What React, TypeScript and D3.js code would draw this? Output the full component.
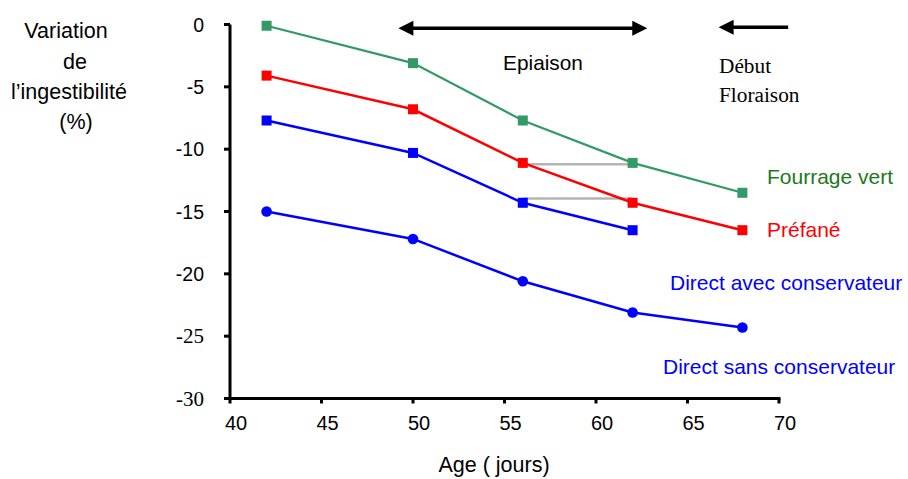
import React from "react";
import * as d3 from "d3";

const ages = [42, 50, 56, 62, 68];
const fourrageVert = [-0.1, -3.1, -7.7, -11.1, -13.5];
const prefane = [-4.1, -6.8, -11.1, -14.3, -16.5];
const directAvec = [-7.7, -10.3, -14.3, -16.5];
const directSans = [-15.0, -17.2, -20.6, -23.1, -24.3];

const xTicks = [40, 45, 50, 55, 60, 65, 70];
const yTicks = [0, -5, -10, -15, -20, -25, -30];
const serifYTicks = [-25, -30];

// gray comparison segments: [x1, x2, y]
const graySegments = [
  [56, 62, -11.2],
  [56, 62, -13.95],
];

const epiaisonRange = [49.2, 62.8];
const floraisonRange = [66.7, 70.5];
const arrowLevel = -0.3;

const W = 908;
const H = 479;
const SANS = "Arial, 'Liberation Sans', Helvetica, sans-serif";
const SERIF = "'Times New Roman', 'Liberation Serif', serif";

export default function App() {
  const x = d3.scaleLinear().domain([40, 70]).range([230, 779]);
  const y = d3.scaleLinear().domain([0, -30]).range([24.5, 398.5]);
  const line = d3
    .line<[number, number]>()
    .x((d) => x(d[0]))
    .y((d) => y(d[1]));

  const pts = (vals: number[]) => vals.map((v, i) => [ages[i], v] as [number, number]);

  const series = [
    { vals: fourrageVert, color: "#339966", marker: "square", w: 2.2 },
    { vals: prefane, color: "#ff0000", marker: "square", w: 2.5 },
    { vals: directAvec, color: "#0000ff", marker: "square", w: 2.5 },
    { vals: directSans, color: "#0000ff", marker: "circle", w: 2.5 },
  ];

  const ay = y(arrowLevel);
  const headL = 15;
  const headH = 7.5;

  return (
    <svg
      width={W}
      height={H}
      style={{ position: "absolute", left: 0, top: 0, background: "#fff" }}
    >
      <rect x={0} y={0} width={W} height={H} fill="#fff" />

      {/* Y axis title */}
      <g fontFamily={SANS} fontSize={21.5} fill="#000" textAnchor="middle">
        <text x={66} y={38}>Variation</text>
        <text x={75} y={69}>de</text>
        <text x={69} y={99}>l’ingestibilité</text>
        <text x={76} y={129}>(%)</text>
      </g>

      {/* gray segments */}
      {graySegments.map((s, i) => (
        <line
          key={i}
          x1={x(s[0])}
          x2={x(s[1])}
          y1={y(s[2])}
          y2={y(s[2])}
          stroke="#b4b4b4"
          strokeWidth={2.5}
        />
      ))}

      {/* series */}
      {series.map((s, i) => {
        const p = pts(s.vals);
        return (
          <g key={i}>
            <path d={line(p) || ""} fill="none" stroke={s.color} strokeWidth={s.w} />
            {p.map((d, j) =>
              s.marker === "square" ? (
                <rect
                  key={j}
                  x={x(d[0]) - 5}
                  y={y(d[1]) - 5}
                  width={10}
                  height={10}
                  fill={s.color}
                />
              ) : (
                <circle key={j} cx={x(d[0])} cy={y(d[1])} r={5.3} fill={s.color} />
              )
            )}
          </g>
        );
      })}

      {/* axes */}
      <line x1={230} x2={230} y1={y(0)} y2={y(-30) + 1.5} stroke="#000" strokeWidth={3} />
      <line x1={228.5} x2={x(70) + 1.5} y1={y(-30)} y2={y(-30)} stroke="#000" strokeWidth={3} />
      {yTicks.map((t) => (
        <g key={t}>
          <line x1={224} x2={230} y1={y(t)} y2={y(t)} stroke="#000" strokeWidth={3} />
          <text
            x={204}
            y={y(t) + 7}
            textAnchor="end"
            fontFamily={serifYTicks.includes(t) ? SERIF : SANS}
            fontSize={serifYTicks.includes(t) ? 21 : 19.5}
          >
            {t}
          </text>
        </g>
      ))}
      {xTicks.map((t) => (
        <g key={t}>
          <line x1={x(t)} x2={x(t)} y1={y(-30)} y2={y(-30) + 5} stroke="#000" strokeWidth={3} />
          <text x={x(t) + 6} y={430} textAnchor="middle" fontFamily={SANS} fontSize={20}>
            {t}
          </text>
        </g>
      ))}
      <text x={494} y={472} textAnchor="middle" fontFamily={SANS} fontSize={21.5}>
        Age ( jours)
      </text>

      {/* Epiaison arrow */}
      <line
        x1={x(epiaisonRange[0]) + headL - 1}
        x2={x(epiaisonRange[1]) - headL + 1}
        y1={ay}
        y2={ay}
        stroke="#000"
        strokeWidth={3.5}
      />
      <polygon
        points={`${x(epiaisonRange[0])},${ay} ${x(epiaisonRange[0]) + headL},${ay - headH} ${x(epiaisonRange[0]) + headL},${ay + headH}`}
        fill="#000"
      />
      <polygon
        points={`${x(epiaisonRange[1])},${ay} ${x(epiaisonRange[1]) - headL},${ay - headH} ${x(epiaisonRange[1]) - headL},${ay + headH}`}
        fill="#000"
      />
      <text x={543} y={70} textAnchor="middle" fontFamily={SANS} fontSize={20.8}>
        Epiaison
      </text>

      {/* Floraison arrow */}
      <line
        x1={x(floraisonRange[0]) + headL - 1}
        x2={x(floraisonRange[1])}
        y1={ay - 1}
        y2={ay - 1}
        stroke="#000"
        strokeWidth={3.5}
      />
      <polygon
        points={`${x(floraisonRange[0])},${ay - 1} ${x(floraisonRange[0]) + headL},${ay - 1 - headH} ${x(floraisonRange[0]) + headL},${ay - 1 + headH}`}
        fill="#000"
      />
      <text x={719} y={73} fontFamily={SERIF} fontSize={21.3}>
        Début
      </text>
      <text x={719} y={102} fontFamily={SERIF} fontSize={21.3}>
        Floraison
      </text>

      {/* series labels */}
      <g fontFamily={SANS} fontSize={21}>
        <text x={767} y={184} fill="#1a7a1a">Fourrage vert</text>
        <text x={767} y={237} fill="#ff0000">Préfané</text>
        <text x={670} y={290} fill="#0000ff">Direct avec conservateur</text>
        <text x={663} y={374} fill="#0000ff">Direct sans conservateur</text>
      </g>
    </svg>
  );
}
